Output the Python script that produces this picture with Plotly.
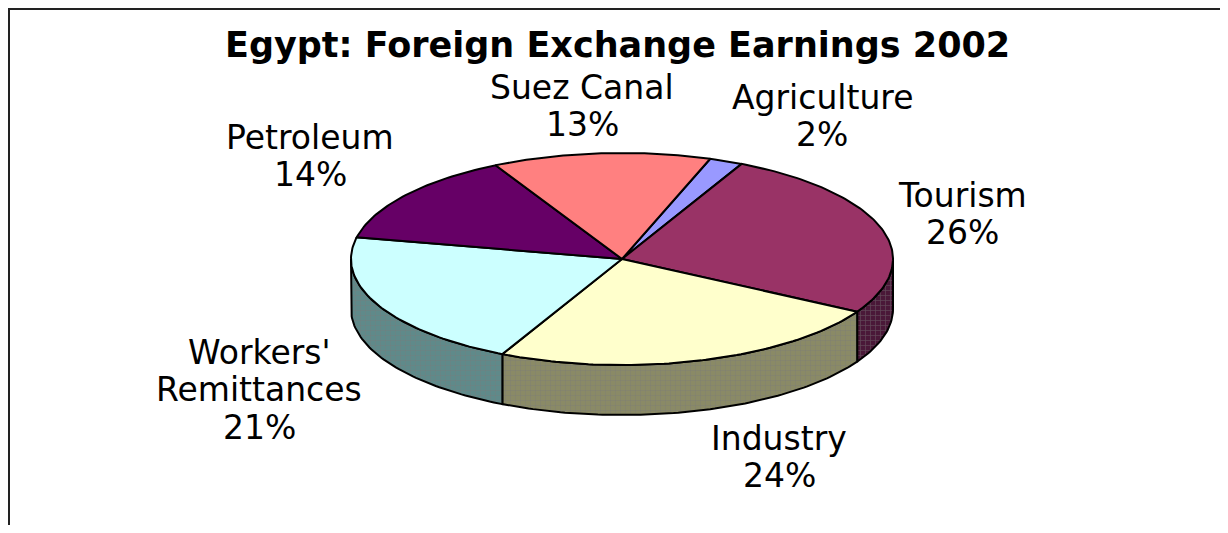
import math
import plotly.graph_objects as go

# ── Data ─────────────────────────────────────────────────────────────────────
CATEGORIES = ["Agriculture", "Tourism", "Industry", "Workers' Remittances", "Petroleum", "Suez Canal"]
SHARES = [2, 26, 24, 21, 14, 13]   # % of foreign exchange earnings, 2002
TITLE = "Egypt: Foreign Exchange Earnings 2002"

# ── Style (Excel 97 default palette) ────────────────────────────────────────
TOP_COLOR = ["#9999FF", "#993366", "#FFFFCC", "#CCFFFF", "#660066", "#FF8080"]
SIDE_COLOR = ["#4d4d80", "#4a1838", "#8a8a66", "#5f8a8a", "#330033", "#804040"]
LABEL_LINES = {
    "Agriculture": ["Agriculture"],
    "Tourism": ["Tourism"],
    "Industry": ["Industry"],
    "Workers' Remittances": ["Workers'", "Remittances"],
    "Petroleum": ["Petroleum"],
    "Suez Canal": ["Suez Canal"],
}
# label centre (x, first-line y) in page pixels
LABEL_POS = {
    "Agriculture": (822, 97),
    "Tourism": (962, 195),
    "Industry": (779, 438),
    "Workers' Remittances": (259, 352),
    "Petroleum": (310, 137),
    "Suez Canal": (582, 87),
}
LINE_GAP = 37.5
FONT = "DejaVu Sans, Verdana, Arial, sans-serif"

# the page body has an 8px margin: axes are set up in page pixels
OFF = 8
W, H = 1228, 533
CX, CY = 622, 259          # pie centre
RX, RY = 271, 106          # ellipse semi-axes
DEPTH = 50                 # thickness of the 3D rim
START = 71.0               # angle of first slice (deg, ccw from +x)


def pt(t_deg, dy=0.0):
    t = math.radians(t_deg)
    return CX + RX * math.cos(t), CY - RY * math.sin(t) + dy


def arc(a0, a1, dy=0.0, step=1.0):
    n = max(2, int(abs(a1 - a0) / step) + 1)
    return [pt(a0 + (a1 - a0) * i / (n - 1), dy) for i in range(n)]


# slice angle spans (clockwise)
spans = []
acc = START
total = float(sum(SHARES))
for v in SHARES:
    a0 = acc
    a1 = acc - 360.0 * v / total
    spans.append((a0, a1))
    acc = a1

traces = []

# ── Rim (front half only: angles in [-180, 0]) ───────────────────────────────
for (a0, a1), col in zip(spans, SIDE_COLOR):
    for k in (0, -360):
        hi, lo = a0 + k, a1 + k
        s_hi, s_lo = min(hi, 0.0), max(lo, -180.0)
        if s_hi - s_lo <= 0.01:
            continue
        top = arc(s_hi, s_lo)
        bot = arc(s_lo, s_hi, dy=DEPTH)
        pts = top + bot + [top[0]]
        traces.append(go.Scatter(
            x=[p[0] for p in pts], y=[p[1] for p in pts],
            mode="lines", fill="toself", fillcolor=col,
            fillpattern=dict(shape="+", bgcolor=col, fgcolor="#7a7a7a", size=5, solidity=0.25),
            line=dict(color="black", width=2),
            hoverinfo="skip", showlegend=False,
        ))

# ── Top faces ────────────────────────────────────────────────────────────────
for name, v, (a0, a1), col in zip(CATEGORIES, SHARES, spans, TOP_COLOR):
    pts = [(CX, CY)] + arc(a0, a1) + [(CX, CY)]
    traces.append(go.Scatter(
        x=[p[0] for p in pts], y=[p[1] for p in pts],
        mode="lines", fill="toself", fillcolor=col,
        line=dict(color="black", width=2),
        name=name, hoverinfo="text", hoveron="fills",
        text=f"{name}: {v}%", showlegend=False,
    ))

# ── Labels ───────────────────────────────────────────────────────────────────
annotations = []
for name, v in zip(CATEGORIES, SHARES):
    lx, ly = LABEL_POS[name]
    lines = LABEL_LINES[name] + [f"{v}%"]
    for i, txt in enumerate(lines):
        annotations.append(dict(
            x=lx, y=ly + i * LINE_GAP, xref="x", yref="y",
            text=txt, showarrow=False, xanchor="center", yanchor="middle",
            font=dict(family=FONT, size=33, color="black"),
        ))

annotations.append(dict(
    x=617, y=45, xref="x", yref="y", text=f"<b>{TITLE}</b>", showarrow=False,
    xanchor="center", yanchor="middle",
    font=dict(family=FONT, size=35, color="black"),
))

fig = go.Figure(data=traces)
fig.update_layout(
    width=W - 2 * OFF, height=H - 2 * OFF, autosize=False,
    margin=dict(l=0, r=0, t=0, b=0),
    paper_bgcolor="white", plot_bgcolor="white",
    xaxis=dict(range=[OFF, W - OFF], visible=False, fixedrange=True),
    yaxis=dict(range=[H - OFF, OFF], visible=False, fixedrange=True),
    annotations=annotations,
    shapes=[
        dict(type="line", xref="paper", yref="y", x0=0, x1=1, y0=9, y1=9, line=dict(color="#222", width=2)),
        dict(type="line", xref="x", yref="paper", x0=9, x1=9, y0=0, y1=1, line=dict(color="#222", width=2)),
    ],
    showlegend=False,
)
fig.write_html("out.html")
